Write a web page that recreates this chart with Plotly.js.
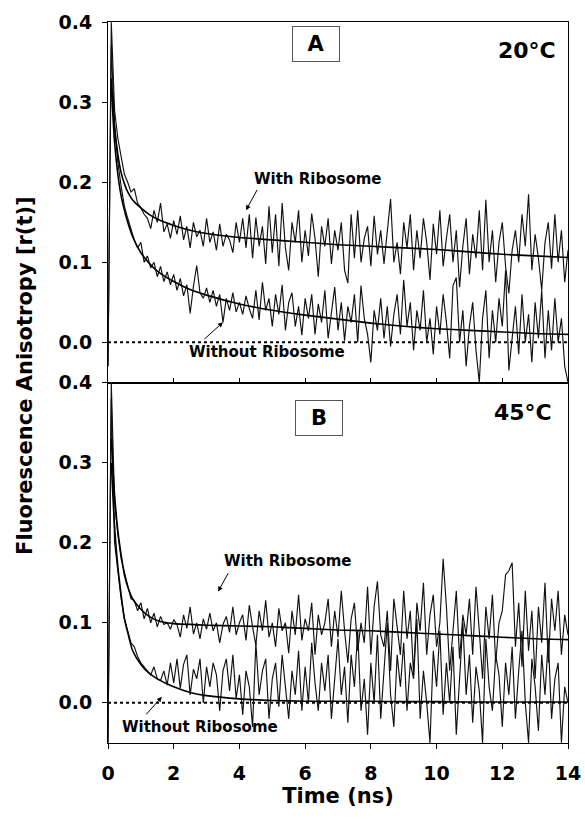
<!DOCTYPE html>
<html>
<head>
<meta charset="utf-8">
<script src="https://cdn.plot.ly/plotly-3.0.1.min.js"></script>
<style>html,body{margin:0;padding:0;background:#fff;}#chart{width:585px;height:819px;}</style>
</head>
<body>
<div id="chart"></div>
<script>
// ---- Data ----
// Raw anisotropy decays sampled every 0.1 ns starting at t = 0
const sampleStart = 0;
const sampleStep = 0.1;

const panelA_with = [
  -0.03, 0.40, 0.29, 0.255, 0.232, 0.21, 0.20, 0.188, 0.192, 0.174, 0.168,
  0.16, 0.155, 0.142, 0.165, 0.15, 0.174, 0.138, 0.148, 0.13, 0.152,
  0.135, 0.158, 0.128, 0.145, 0.118, 0.15, 0.132, 0.14, 0.12, 0.155,
  0.125, 0.138, 0.115, 0.148, 0.12, 0.135, 0.128, 0.112, 0.15, 0.125,
  0.155, 0.118, 0.16, 0.105, 0.156, 0.12, 0.145, 0.098, 0.17, 0.112,
  0.16, 0.095, 0.174, 0.118, 0.09, 0.15, 0.125, 0.165, 0.10, 0.14,
  0.108, 0.161, 0.13, 0.082, 0.145, 0.12, 0.155, 0.098, 0.14, 0.115,
  0.15, 0.09, 0.074, 0.16, 0.105, 0.165, 0.10, 0.13, 0.145, 0.095,
  0.158, 0.11, 0.14, 0.098, 0.135, 0.179, 0.10, 0.125, 0.085, 0.15,
  0.118, 0.16, 0.09, 0.14, 0.105, 0.155, 0.125, 0.078, 0.148, 0.11,
  0.165, 0.095, 0.13, 0.16, 0.10, 0.14, 0.069, 0.12, 0.155, 0.085,
  0.135, 0.105, 0.165, 0.09, 0.178, 0.10, 0.14, 0.075, 0.125, 0.15,
  0.095, 0.061, 0.115, 0.14, 0.10, 0.16, 0.12, 0.185, 0.09, 0.135,
  0.105, 0.065, 0.125, 0.15, 0.092, 0.16, 0.10, 0.14, 0.075, 0.115
];

const panelA_without = [
  -0.03, 0.37, 0.27, 0.225, 0.195, 0.17, 0.155, 0.14, 0.128, 0.118, 0.125,
  0.10, 0.108, 0.093, 0.10, 0.082, 0.095, 0.076, 0.088, 0.072, 0.085,
  0.065, 0.08, 0.058, 0.072, 0.036, 0.07, 0.096, 0.062, 0.055, 0.068,
  0.05, 0.065, 0.045, 0.06, 0.025, 0.055, 0.04, 0.062, 0.038, 0.05,
  0.035, 0.058, 0.042, 0.03, 0.065, 0.028, 0.075, 0.04, 0.055, 0.02,
  0.06, 0.035, 0.072, 0.015, 0.05, 0.062, 0.02, 0.045, 0.009, 0.055,
  0.03, 0.06, 0.01, 0.048, 0.025, 0.065, 0.005, 0.04, 0.069, 0.015,
  0.05, 0.002, 0.045, 0.025, 0.06, 0.0, 0.071, 0.03, 0.01, -0.025,
  0.04, 0.015, 0.055, 0.005, 0.045, -0.005, 0.035, 0.06, 0.01, 0.078,
  0.02, 0.05, -0.01, 0.04, 0.015, 0.065, 0.0, 0.03, -0.015, 0.045,
  0.01, 0.06, 0.025, -0.02, 0.071, 0.081, 0.0, 0.04, -0.03, 0.02,
  0.05, -0.01, -0.05, 0.03, 0.065, -0.02, 0.04, 0.0, 0.055, 0.02,
  0.09, -0.035, 0.01, 0.045, -0.015, 0.06, 0.0, 0.035, -0.025, 0.05,
  0.005, 0.065, -0.02, 0.04, -0.01, 0.055, 0.0, 0.03, -0.03, -0.05
];

const panelB_with = [
  -0.05, 0.40, 0.25, 0.21, 0.18, 0.162, 0.148, 0.13, 0.128, 0.115, 0.125,
  0.105, 0.118, 0.10, 0.112, 0.095, 0.108, 0.098, 0.10, 0.092, 0.104,
  0.098, 0.082, 0.11, 0.093, 0.12, 0.086, 0.10, 0.08, 0.105, 0.092,
  0.112, 0.09, 0.10, 0.075, 0.098, 0.108, 0.088, 0.12, 0.085, 0.10,
  0.11, 0.078, 0.122, 0.095, 0.072, 0.115, 0.09, 0.128, 0.082, 0.10,
  0.07, 0.118, 0.09, 0.10, 0.062, 0.115, 0.085, 0.135, 0.078, 0.105,
  0.09, 0.125, 0.06, 0.11, 0.085, 0.10, 0.13, 0.07, 0.115, 0.082,
  0.14, 0.09, 0.05, 0.105, 0.125, 0.065, 0.10, 0.075, 0.145, 0.06,
  0.12, 0.152, 0.085, 0.07, 0.115, 0.04, 0.13, 0.095, 0.06, 0.14,
  0.08, 0.115, 0.035, 0.125, 0.09, 0.15, 0.06, 0.11, 0.135, 0.07,
  0.10, 0.18, 0.12, 0.04, 0.095, 0.14, 0.055, 0.11, 0.085, 0.13,
  0.06, 0.145, 0.09, 0.03, 0.12, 0.08, 0.135, 0.05, 0.10, 0.115,
  0.16, 0.165, 0.175, 0.07, 0.125, 0.045, 0.14, 0.065, 0.115, 0.03,
  0.12, 0.075, 0.15, 0.05, 0.13, 0.09, 0.14, 0.06, 0.11, 0.085
];

const panelB_without = [
  -0.05, 0.38, 0.20, 0.165, 0.13, 0.105, 0.09, 0.075, 0.07, 0.058, 0.05,
  0.045, 0.04, 0.035, 0.045, 0.03, 0.028, 0.04, 0.022, 0.05, 0.025,
  0.055, 0.018, 0.048, 0.06, 0.01, 0.042, 0.03, 0.055, 0.0, 0.045,
  0.02, 0.05, 0.035, -0.01, 0.04, 0.055, 0.015, 0.06, 0.005, 0.035,
  -0.015, 0.04, 0.02, -0.03, 0.075, 0.01, 0.04, 0.055, -0.02, 0.03,
  0.05, -0.005, 0.06, 0.02, -0.02, 0.04, 0.01, 0.065, -0.01, 0.045,
  0.0, 0.075, 0.025, -0.01, 0.05, 0.015, 0.06, -0.02, 0.035, 0.08,
  0.01, 0.045, -0.025, 0.06, 0.02, 0.09, -0.01, 0.03, -0.04, 0.05,
  0.0, 0.085, -0.02, 0.04, 0.10, 0.01, -0.03, 0.06, 0.02, 0.075,
  -0.01, 0.05, 0.03, 0.105, -0.02, 0.04, 0.0, -0.05, 0.065, 0.02,
  0.09, -0.015, 0.05, 0.0, 0.07, -0.04, 0.03, 0.10, 0.01, 0.06,
  -0.025, 0.045, 0.015, -0.05, 0.08, 0.02, -0.01, 0.06, 0.035, -0.03,
  0.05, 0.01, 0.07, -0.02, 0.04, 0.09, 0.0, -0.05, 0.055, 0.02,
  -0.035, 0.06, 0.01, 0.08, -0.02, 0.03, 0.05, -0.05, 0.02, 0.0
];

// Fitted curves (read at these times)
const fitTime = [0.1, 0.2, 0.3, 0.4, 0.5, 0.6, 0.75, 1, 1.25, 1.5, 2, 2.5, 3, 4, 5, 6, 7, 8, 9, 10, 11, 12, 13, 14];
const fitA_with    = [0.33, 0.27, 0.235, 0.212, 0.198, 0.188, 0.178, 0.168, 0.16, 0.154, 0.146, 0.14, 0.136, 0.131, 0.128, 0.125, 0.122, 0.120, 0.118, 0.116, 0.113, 0.110, 0.108, 0.106];
const fitA_without = [0.32, 0.25, 0.21, 0.183, 0.165, 0.15, 0.132, 0.112, 0.099, 0.089, 0.076, 0.066, 0.059, 0.048, 0.040, 0.034, 0.029, 0.024, 0.020, 0.017, 0.015, 0.013, 0.011, 0.010];
const fitB_with    = [0.33, 0.26, 0.215, 0.185, 0.16, 0.145, 0.13, 0.117, 0.108, 0.103, 0.099, 0.098, 0.097, 0.096, 0.095, 0.093, 0.091, 0.090, 0.088, 0.086, 0.084, 0.082, 0.080, 0.079];
const fitB_without = [0.30, 0.22, 0.17, 0.135, 0.105, 0.088, 0.065, 0.048, 0.037, 0.030, 0.020, 0.013, 0.009, 0.005, 0.003, 0.002, 0.002, 0.002, 0.0015, 0.0015, 0.001, 0.001, 0.001, 0.001];

const zeroLineX = [0, 14];
const zeroLineY = [0, 0];

const xTicks = [0, 2, 4, 6, 8, 10, 12, 14];
const yTicks = [0.0, 0.1, 0.2, 0.3, 0.4];

// ---- Traces ----
const rawStyle = {color: '#111111', width: 1.15};
const fitStyle = {color: '#000000', width: 1.6};
const zeroStyle = {color: '#000000', width: 2, dash: 'dot'};

function raw(vals, xa, ya, name) {
  return {type: 'scatter', mode: 'lines', x0: sampleStart, dx: sampleStep, y: vals,
          xaxis: xa, yaxis: ya, line: rawStyle, name: name, hoverinfo: 'skip'};
}
function fit(vals, xa, ya, name) {
  return {type: 'scatter', mode: 'lines', x: fitTime, y: vals, line: Object.assign({shape: 'spline', smoothing: 0.6}, fitStyle),
          xaxis: xa, yaxis: ya, name: name, hoverinfo: 'skip'};
}
function zero(xa, ya) {
  return {type: 'scatter', mode: 'lines', x: zeroLineX, y: zeroLineY, line: zeroStyle, xaxis: xa, yaxis: ya, hoverinfo: 'skip'};
}

const data = [
  zero('x', 'y'),
  raw(panelA_with, 'x', 'y', 'A with ribosome'),
  raw(panelA_without, 'x', 'y', 'A without ribosome'),
  fit(fitA_with, 'x', 'y', 'A fit with'),
  fit(fitA_without, 'x', 'y', 'A fit without'),
  zero('x2', 'y2'),
  raw(panelB_with, 'x2', 'y2', 'B with ribosome'),
  raw(panelB_without, 'x2', 'y2', 'B without ribosome'),
  fit(fitB_with, 'x2', 'y2', 'B fit with'),
  fit(fitB_without, 'x2', 'y2', 'B fit without')
];

const FONT = 'DejaVu Sans, Liberation Sans, Arial, sans-serif';
const tickFont = {family: FONT, size: 19, color: '#000', weight: 'bold'};

const yCommon = {
  range: [-0.0502, 0.4003], tickvals: yTicks, tickformat: '.1f',
  ticks: 'outside', ticklen: 5, tickwidth: 1, tickcolor: '#000',
  showline: true, linecolor: '#000', linewidth: 1, mirror: true,
  showgrid: false, zeroline: false, tickfont: tickFont, ticklabelstandoff: 6
};

const layout = {
  width: 585, height: 819,
  margin: {l: 108, r: 17, t: 22, b: 76},
  paper_bgcolor: '#fff', plot_bgcolor: '#fff',
  showlegend: false,
  font: {family: FONT, color: '#000'},
  xaxis: {
    range: [0, 14], tickvals: xTicks, showticklabels: false,
    ticks: 'inside', ticklen: 5, tickcolor: '#000',
    showline: true, linecolor: '#000', linewidth: 1, mirror: true,
    showgrid: false, zeroline: false, anchor: 'y'
  },
  yaxis: Object.assign({domain: [0.5, 1], anchor: 'x'}, yCommon),
  xaxis2: {
    range: [0, 14], tickvals: xTicks, matches: 'x',
    ticks: 'outside', ticklen: 5, tickcolor: '#000',
    showline: true, linecolor: '#000', linewidth: 1, mirror: true,
    showgrid: false, zeroline: false, anchor: 'y2',
    tickfont: tickFont, ticklabelstandoff: 8,
    title: {text: '<b>Time (ns)</b>', font: {family: FONT, size: 21, color: '#000'}, standoff: 4}
  },
  yaxis2: Object.assign({domain: [0, 0.5], anchor: 'x2'}, yCommon),
  annotations: [
    {xref: 'paper', yref: 'paper', x: -0.179, y: 0.51, xanchor: 'center', yanchor: 'middle',
     textangle: -90, showarrow: false, text: '<b>Fluorescence Anisotropy [r(t)]</b>',
     font: {family: FONT, size: 21, color: '#000'}},
    {xref: 'paper', yref: 'paper', x: 0.453, y: 0.969, xanchor: 'center', yanchor: 'middle',
     showarrow: false, text: '<b>A</b>', font: {family: FONT, size: 21, color: '#000'},
     bordercolor: '#555', borderwidth: 1, borderpad: 3, width: 40, height: 28, bgcolor: '#fff'},
    {xref: 'paper', yref: 'paper', x: 0.458, y: 0.451, xanchor: 'center', yanchor: 'middle',
     showarrow: false, text: '<b>B</b>', font: {family: FONT, size: 21, color: '#000'},
     bordercolor: '#555', borderwidth: 1, borderpad: 3, width: 40, height: 28, bgcolor: '#fff'},
    {xref: 'paper', yref: 'paper', x: 0.911, y: 0.961, xanchor: 'center', yanchor: 'middle',
     showarrow: false, text: '<b>20°C</b>', font: {family: FONT, size: 22, color: '#000'}},
    {xref: 'paper', yref: 'paper', x: 0.902, y: 0.4577, xanchor: 'center', yanchor: 'middle',
     showarrow: false, text: '<b>45°C</b>', font: {family: FONT, size: 22, color: '#000'}},
    // labels
    {xref: 'paper', yref: 'paper', x: 0.4565, y: 0.782, xanchor: 'center', yanchor: 'middle',
     showarrow: false, text: '<b>With Ribosome</b>', font: {family: FONT, size: 15, color: '#000'}},
    {xref: 'paper', yref: 'paper', x: 0.3457, y: 0.5423, xanchor: 'center', yanchor: 'middle',
     showarrow: false, text: '<b>Without Ribosome</b>', font: {family: FONT, size: 15, color: '#000'}},
    {xref: 'paper', yref: 'paper', x: 0.391, y: 0.2524, xanchor: 'center', yanchor: 'middle',
     showarrow: false, text: '<b>With Ribosome</b>', font: {family: FONT, size: 15, color: '#000'}},
    {xref: 'paper', yref: 'paper', x: 0.20, y: 0.0222, xanchor: 'center', yanchor: 'middle',
     showarrow: false, text: '<b>Without Ribosome</b>', font: {family: FONT, size: 15, color: '#000'}},
    // arrows
    {xref: 'x', yref: 'y', x: 4.2, y: 0.165, ax: 12, ay: -22, text: '', showarrow: true,
     arrowhead: 2, arrowsize: 1, arrowwidth: 1, arrowcolor: '#000'},
    {xref: 'x', yref: 'y', x: 3.5, y: 0.025, ax: -20, ay: 18, text: '', showarrow: true,
     arrowhead: 2, arrowsize: 1, arrowwidth: 1, arrowcolor: '#000'},
    {xref: 'x2', yref: 'y2', x: 3.35, y: 0.139, ax: 11, ay: -20, text: '', showarrow: true,
     arrowhead: 2, arrowsize: 1, arrowwidth: 1, arrowcolor: '#000'},
    {xref: 'x2', yref: 'y2', x: 1.64, y: 0.0075, ax: -17, ay: 19, text: '', showarrow: true,
     arrowhead: 2, arrowsize: 1, arrowwidth: 1, arrowcolor: '#000'}
  ]
};

Plotly.newPlot('chart', data, layout, {displayModeBar: false, staticPlot: true});
</script>
</body>
</html>
